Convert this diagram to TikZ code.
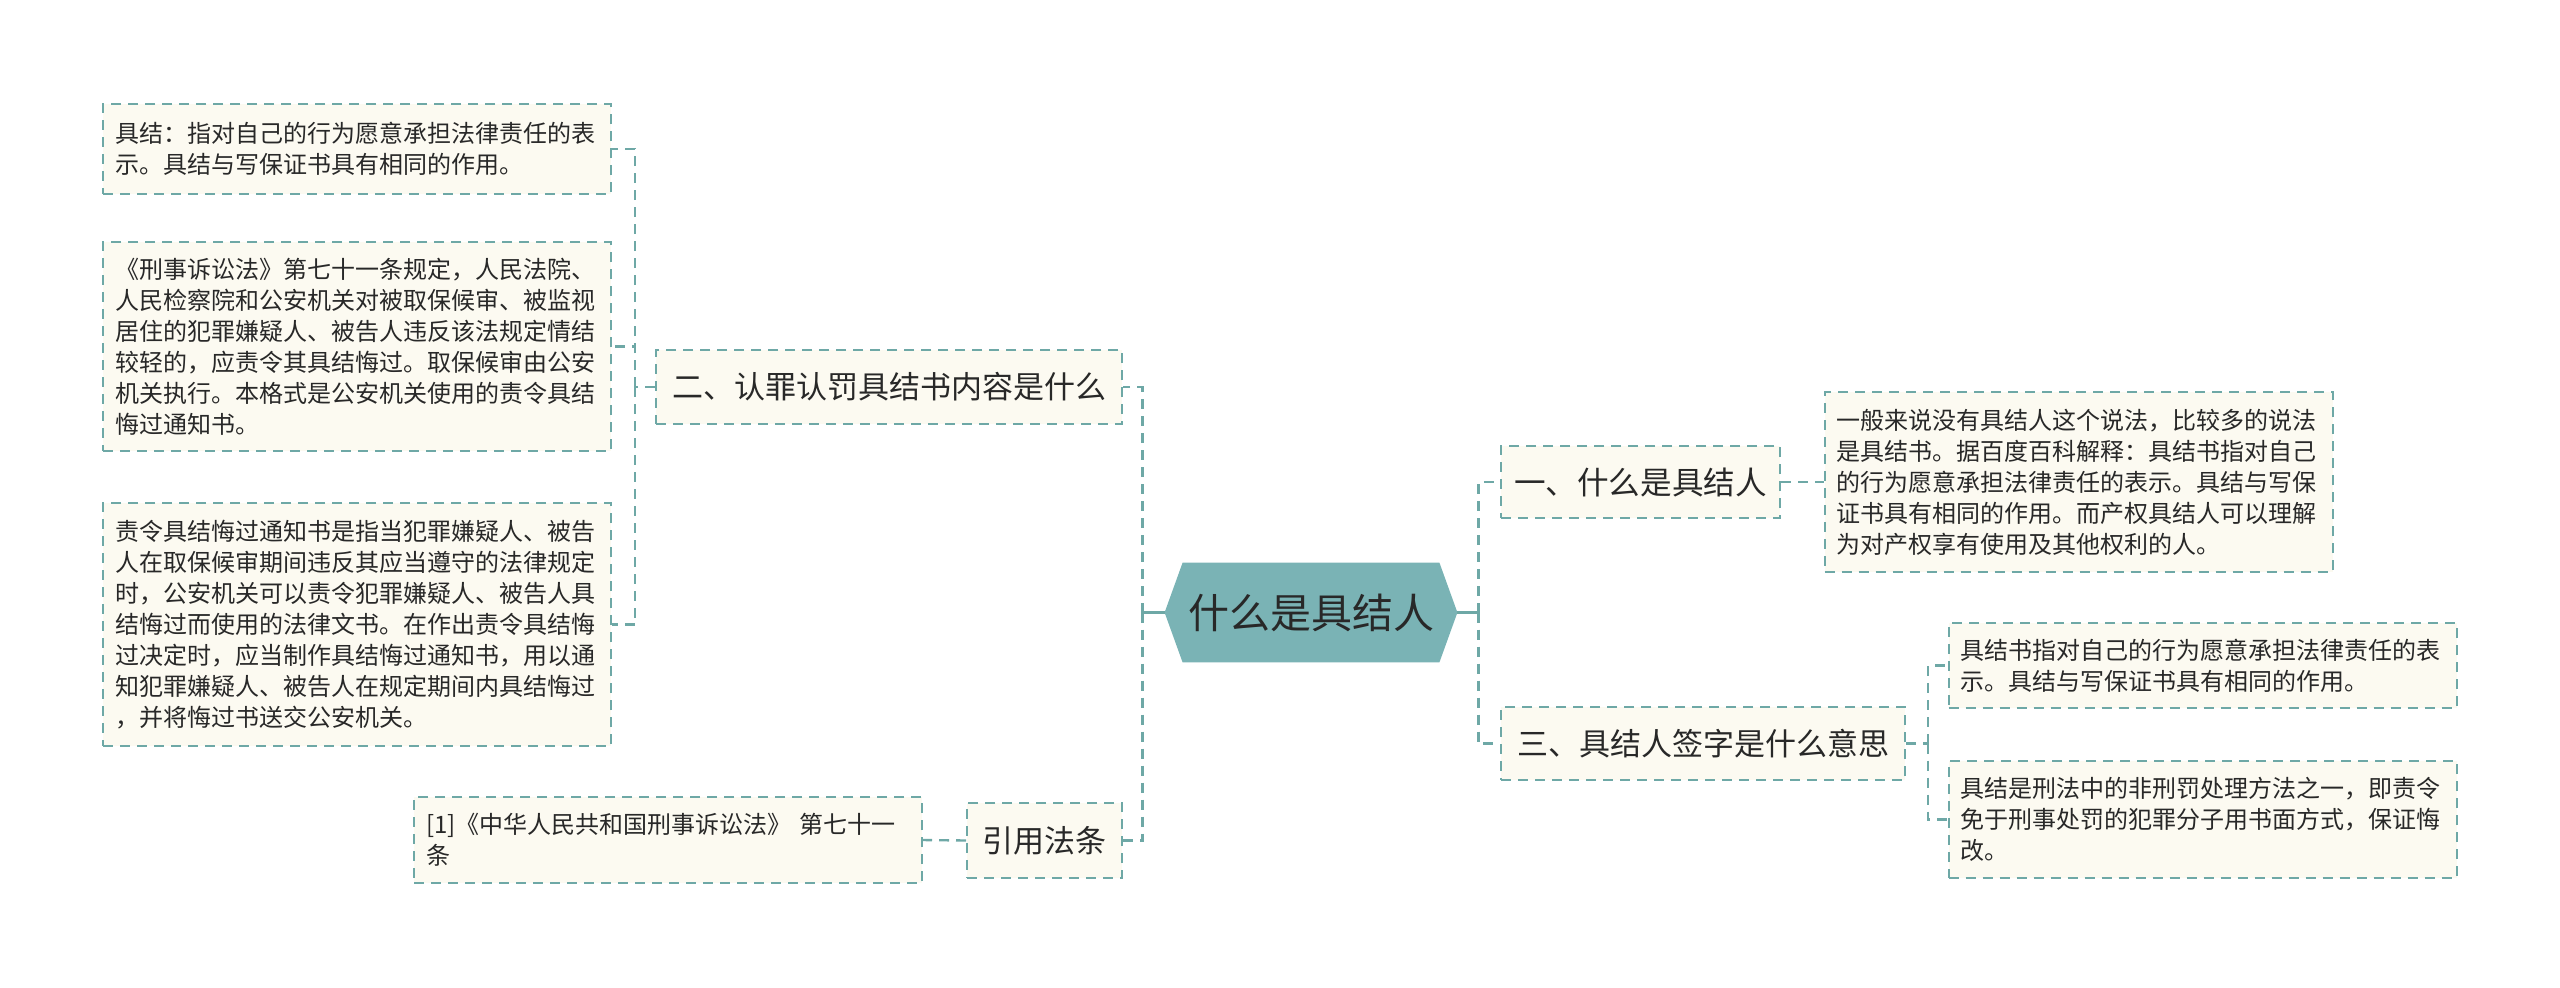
\documentclass[tikz,border=0pt]{standalone}
\usepackage{fontspec}
\setmainfont{Noto Sans CJK SC}
\usetikzlibrary{positioning, backgrounds}
\definecolor{tealline}{RGB}{110,168,166}
\definecolor{cream}{RGB}{252,250,241}
\definecolor{hubfill}{RGB}{122,179,181}
\definecolor{inkdark}{RGB}{40,40,40}

\begin{document}
\begin{tikzpicture}[x=0.5pt, y=-0.5pt,
  every node/.style={text=inkdark},
  leaf/.style={draw=tealline, line width=1pt, dash pattern=on 5pt off 3.5pt, fill=cream,
    text width=242pt, inner xsep=6pt, inner ysep=0pt, align=left,
    font=\fontsize{12}{15.5}\selectfont},
  topic/.style={draw=tealline, line width=1pt, dash pattern=on 5pt off 3.5pt, fill=cream,
    inner sep=0pt, align=center, font=\fontsize{15.5}{18}\selectfont},
  hub/.style={inner sep=0pt, minimum width=146pt, minimum height=49.5pt,
    font=\fontsize{20.5}{24}\selectfont},
  conn/.style={draw=tealline, line width=1.2pt, dash pattern=on 5pt off 3.5pt},
  stem/.style={draw=tealline, line width=1.5pt}]
  \useasboundingbox (0,0) rectangle (2560,987);

  % centre
  \node[hub] (hub) at (1311,612.5) {什么是具结人};
  \begin{scope}[on background layer]
    \fill[hubfill] (hub.west) -- ([xshift=9pt]hub.north west) -- ([xshift=-9pt]hub.north east)
      -- (hub.east) -- ([xshift=-9pt]hub.south east) -- ([xshift=9pt]hub.south west) -- cycle;
  \end{scope}

  % right branch
  \node[topic, minimum width=139.5pt, minimum height=36pt, font=\fontsize{15.8}{18}\selectfont] (n1) at (1640.5,482) {一、什么是具结人};
  \node[topic, minimum width=202pt, minimum height=36.5pt] (n3) at (1703,743.5) {三、具结人签字是什么意思};
  \node[leaf, minimum height=90pt] (r1) at (2078.5,482) {一般来说没有具结人这个说法，比较多的说法\\是具结书。据百度百科解释：具结书指对自己\\的行为愿意承担法律责任的表示。具结与写保\\证书具有相同的作用。而产权具结人可以理解\\为对产权享有使用及其他权利的人。};
  \node[leaf, minimum height=42.5pt] (r2a) at (2202.5,665.5) {具结书指对自己的行为愿意承担法律责任的表\\示。具结与写保证书具有相同的作用。};
  \node[leaf, minimum height=58.5pt] (r2b) at (2202.5,819.5) {具结是刑法中的非刑罚处理方法之一，即责令\\免于刑事处罚的犯罪分子用书面方式，保证悔\\改。};

  % left branch
  \node[topic, minimum width=233pt, minimum height=37pt] (n2) at (889,387) {二、认罪认罚具结书内容是什么};
  \node[topic, minimum width=77.5pt, minimum height=37.5pt] (cite) at (1044.5,840.5) {引用法条};
  \node[leaf, minimum height=45pt] (la) at (357,149) {具结：指对自己的行为愿意承担法律责任的表\\示。具结与写保证书具有相同的作用。};
  \node[leaf, minimum height=104.5pt] (lb) at (357,346.5) {《刑事诉讼法》第七十一条规定，人民法院、\\人民检察院和公安机关对被取保候审、被监视\\居住的犯罪嫌疑人、被告人违反该法规定情结\\较轻的，应责令其具结悔过。取保候审由公安\\机关执行。本格式是公安机关使用的责令具结\\悔过通知书。};
  \node[leaf, minimum height=121.5pt] (lc) at (357,624.5) {责令具结悔过通知书是指当犯罪嫌疑人、被告\\人在取保候审期间违反其应当遵守的法律规定\\时，公安机关可以责令犯罪嫌疑人、被告人具\\结悔过而使用的法律文书。在作出责令具结悔\\过决定时，应当制作具结悔过通知书，用以通\\知犯罪嫌疑人、被告人在规定期间内具结悔过\\，并将悔过书送交公安机关。};
  \node[leaf, minimum height=43pt] (ref) at (668,840) {[1]《中华人民共和国刑事诉讼法》 第七十一\\条};

  % connectors
  \coordinate[right=10.5pt of hub.east] (jr);
  \coordinate[left=11pt of hub.west] (jl);
  \coordinate[left=10pt of n2.west] (j2);
  \coordinate[right=11pt of n3.east] (j3);
  \draw[stem] (hub.east) -- (jr);
  \draw[stem] (hub.west) -- (jl);
  \draw[conn] (jr) |- (n1.west);
  \draw[conn] (jr) |- (n3.west);
  \draw[conn] (jl) |- (n2.east);
  \draw[conn] (jl) |- (cite.east);
  \draw[conn] (n1.east) -- (r1.west);
  \draw[conn] (n3.east) -- (j3);
  \draw[conn] (j3) |- (r2a.west);
  \draw[conn] (j3) |- (r2b.west);
  \draw[conn] (n2.west) -- (j2);
  \draw[conn] (j2) |- (la.east);
  \draw[conn] (j2) |- (lb.east);
  \draw[conn] (j2) |- (lc.east);
  \draw[conn] (cite.west) -- (ref.east);
\end{tikzpicture}
\end{document}
